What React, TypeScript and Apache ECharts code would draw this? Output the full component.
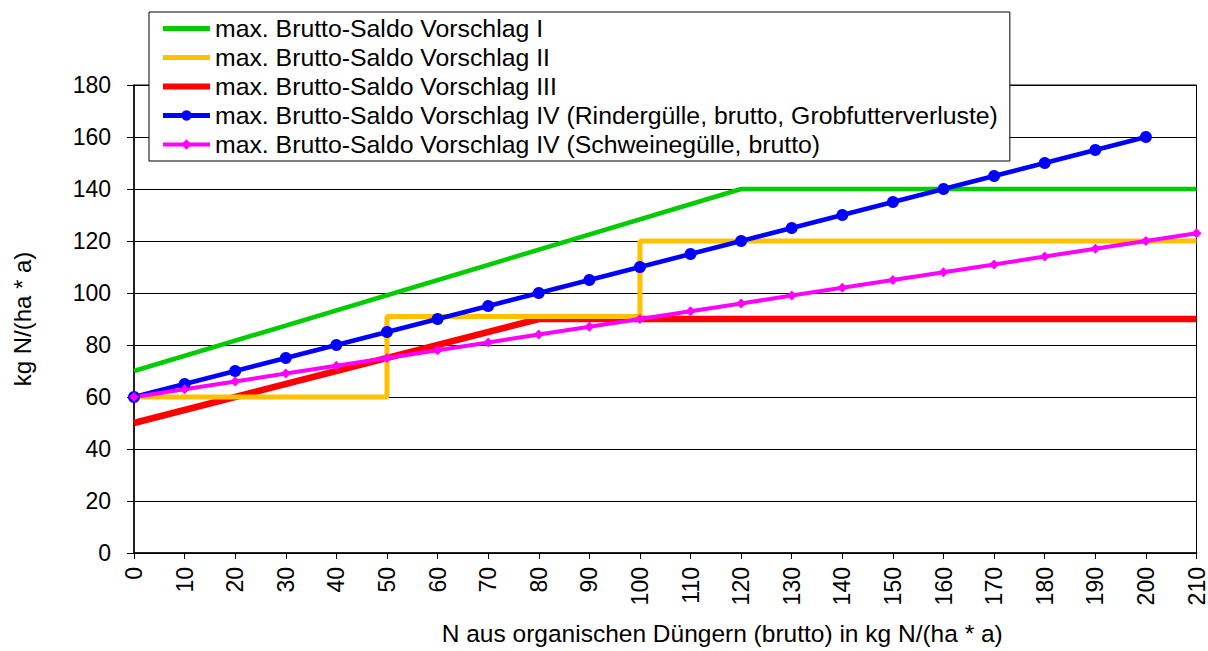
import React, { useEffect, useRef } from "react";
import * as echarts from "echarts";

const legendNames = [
  "max. Brutto-Saldo Vorschlag I",
  "max. Brutto-Saldo Vorschlag II",
  "max. Brutto-Saldo Vorschlag III",
  "max. Brutto-Saldo Vorschlag IV (Rindergülle, brutto, Grobfutterverluste)",
  "max. Brutto-Saldo Vorschlag IV (Schweinegülle, brutto)",
];
const legendWidths = [5, 5, 6, 5, 4];
const legendSymbolOpacity = [0, 0, 0, 1, 1];

const greenX = [0, 120, 210];
const greenY = [70, 140, 140];

const yellowX = [0, 50, 50, 100, 100, 210];
const yellowY = [60, 60, 91, 91, 120, 120];

const redX = [0, 80, 210];
const redY = [50, 90, 90];

const blueX = [0, 10, 20, 30, 40, 50, 60, 70, 80, 90, 100, 110, 120, 130, 140, 150, 160, 170, 180, 190, 200];
const blueY = [60, 65, 70, 75, 80, 85, 90, 95, 100, 105, 110, 115, 120, 125, 130, 135, 140, 145, 150, 155, 160];

const magentaX = [0, 10, 20, 30, 40, 50, 60, 70, 80, 90, 100, 110, 120, 130, 140, 150, 160, 170, 180, 190, 200, 210];
const magentaY = [60, 63, 66, 69, 72, 75, 78, 81, 84, 87, 90, 93, 96, 99, 102, 105, 108, 111, 114, 117, 120, 123];

const zip = (xs: number[], ys: number[]) => xs.map((x, i) => [x, ys[i]]);

const FONT = "'Liberation Sans', Arial, sans-serif";

export default function App() {
  const ref = useRef<HTMLDivElement>(null);
  useEffect(() => {
    if (!ref.current) return;
    const chart = echarts.init(ref.current, null, { renderer: "svg" });
    chart.setOption({
      animation: false,
      backgroundColor: "#fff",
      textStyle: { fontFamily: FONT },
      grid: {
        left: 134,
        right: 11,
        top: 85,
        bottom: 98,
        show: true,
        borderColor: "#000",
        borderWidth: 1,
      },
      legend: {
        orient: "vertical",
        left: 149,
        top: 12,
        data: legendNames.map((n, i) => ({
          name: n,
          icon: "inherit",
          lineStyle: { width: legendWidths[i] },
          itemStyle: { opacity: legendSymbolOpacity[i] },
        })),
        backgroundColor: "#fff",
        borderColor: "#000",
        borderWidth: 1,
        padding: [4, 12, 4, 11],
        itemWidth: 47,
        itemHeight: 13,
        itemGap: 4,
        textStyle: { fontSize: 24.8, color: "#000", fontFamily: FONT },
      },
      xAxis: {
        type: "value",
        min: 0,
        max: 210,
        interval: 10,
        name: "N aus organischen Düngern (brutto) in kg N/(ha * a)",
        nameLocation: "middle",
        nameGap: 68,
        nameTextStyle: {
          fontSize: 24.5,
          color: "#000",
          fontFamily: FONT,
          padding: [0, 0, 0, 114],
        },
        axisLine: { lineStyle: { color: "#000", width: 1.5 } },
        axisTick: { show: true, length: 6, lineStyle: { color: "#000" } },
        axisLabel: { rotate: 90, fontSize: 23, color: "#000", margin: 14, fontFamily: FONT },
        splitLine: { show: false },
      },
      yAxis: {
        type: "value",
        min: 0,
        max: 180,
        interval: 20,
        name: "kg N/(ha * a)",
        nameLocation: "middle",
        nameGap: 100,
        nameTextStyle: { fontSize: 24, color: "#000", fontFamily: FONT },
        axisLine: { show: true, lineStyle: { color: "#000", width: 1.5 } },
        axisTick: { show: true, length: 7, lineStyle: { color: "#000" } },
        axisLabel: { fontSize: 23, color: "#000", margin: 23, fontFamily: FONT },
        splitLine: { show: true, lineStyle: { color: "#000", width: 1 } },
      },
      series: [
        {
          name: legendNames[0],
          type: "line",
          data: zip(greenX, greenY),
          symbol: "none",
          lineStyle: { color: "#00cc00", width: 4.5 },
          itemStyle: { color: "#00cc00" },
        },
        {
          name: legendNames[2],
          type: "line",
          data: zip(redX, redY),
          symbol: "none",
          lineStyle: { color: "#ff0000", width: 6.5 },
          itemStyle: { color: "#ff0000" },
        },
        {
          name: legendNames[1],
          type: "line",
          data: zip(yellowX, yellowY),
          symbol: "none",
          lineStyle: { color: "#ffc000", width: 5 },
          itemStyle: { color: "#ffc000" },
        },
        {
          name: legendNames[3],
          type: "line",
          data: zip(blueX, blueY),
          symbol: "circle",
          symbolSize: 12,
          lineStyle: { color: "#0000ff", width: 4.5 },
          itemStyle: { color: "#0000ff" },
        },
        {
          name: legendNames[4],
          type: "line",
          data: zip(magentaX, magentaY),
          symbol: "diamond",
          symbolSize: 10,
          lineStyle: { color: "#ff00ff", width: 4 },
          itemStyle: { color: "#ff00ff" },
        },
      ],
    });
    return () => chart.dispose();
  }, []);
  return (
    <div
      ref={ref}
      style={{ position: "absolute", left: 0, top: 0, width: 1208, height: 651 }}
    />
  );
}
